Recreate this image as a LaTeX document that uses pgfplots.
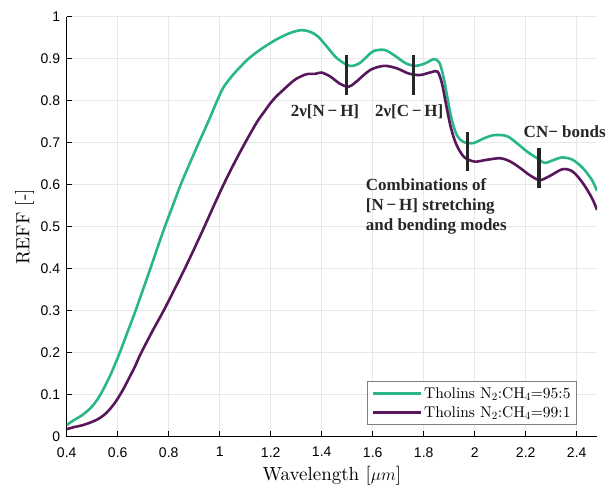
\documentclass[border=0pt]{standalone}
\usepackage{fontspec}
\usepackage{pgfplots}
\pgfplotsset{compat=1.18}
\newfontfamily\tickfont{Liberation Sans}
\newfontfamily\annfont{Liberation Serif}
\newfontfamily\lmten{lmroman10-regular.otf}
\definecolor{cgreen}{RGB}{40,182,138}
\definecolor{cpurple}{RGB}{88,22,92}
\begin{document}
\begin{tikzpicture}
\useasboundingbox (-66.7pt,-48.3pt) rectangle (539.3pt,436.7pt);
\begin{axis}[
  scale only axis,
  width=530.4pt, height=420pt,
  at={(0,0)}, anchor=south west,
  xmin=0.4, xmax=2.48, ymin=0, ymax=1,
  clip mode=individual,
  axis lines*=left,
  axis line style={black, line width=0.8pt},
  xtick={0.4,0.6,...,2.41},
  ytick={0,0.1,...,1.01},
  tick align=inside,
  major tick length=5.5pt,
  tick style={black, line width=0.8pt},
  grid=major,
  major grid style={black!9, line width=0.7pt},
  /pgf/number format/assume math mode=true,
  tick label style={font=\tickfont\fontsize{14}{14}\selectfont},
  xticklabel style={yshift=-7pt},
  yticklabel style={xshift=-3pt},
  xlabel={Wavelength [$\mu m$]},
  ylabel={REFF [-]},
  label style={font=\lmten\fontsize{19}{21}\selectfont},
  xlabel style={at={(axis description cs:0.5,-0.1048)}, anchor=base},
  ylabel style={at={(axis description cs:-0.0705,0.5)}, anchor=base},
  legend style={at={(axis description cs:0.5667,0.0279)}, anchor=south west,
    draw=black!50, line width=0.6pt, fill=white,
    font=\lmten\fontsize{15.5}{18}\selectfont, inner xsep=4pt, inner ysep=4pt,
    row sep=2.5pt},
  legend cell align=left,
  legend image code/.code={\draw[#1, line width=2.6pt] (0pt,0pt) -- (48pt,0pt);},
]
\addplot[cgreen, line width=2.6pt, smooth] coordinates {
(0.40,0.028) (0.43,0.040) (0.46,0.051) (0.49,0.066) (0.51,0.080)
(0.532,0.100) (0.57,0.145) (0.608,0.200) (0.639,0.250) (0.670,0.300)
(0.699,0.350) (0.728,0.400) (0.756,0.450) (0.785,0.500) (0.816,0.550)
(0.847,0.600) (0.882,0.650) (0.918,0.700) (0.955,0.750) (0.990,0.800)
(1.015,0.832) (1.05,0.860) (1.08,0.880) (1.113,0.900) (1.16,0.922)
(1.22,0.945) (1.275,0.961) (1.32,0.968) (1.355,0.964) (1.385,0.953)
(1.42,0.929) (1.46,0.901) (1.51,0.883) (1.55,0.890) (1.60,0.917)
(1.645,0.921) (1.68,0.910) (1.73,0.889) (1.77,0.883) (1.81,0.890)
(1.84,0.899) (1.862,0.890) (1.88,0.850) (1.895,0.80) (1.91,0.755)
(1.93,0.718) (1.955,0.702) (1.995,0.699) (2.035,0.710) (2.075,0.718)
(2.125,0.716) (2.165,0.699) (2.205,0.679) (2.245,0.663) (2.275,0.652)
(2.31,0.659) (2.345,0.665) (2.385,0.659) (2.425,0.639) (2.46,0.611)
(2.48,0.585)
};
\addlegendentry{Tholins N$_2$:CH$_4$=95:5}
\addplot[cpurple, line width=2.6pt, smooth] coordinates {
(0.40,0.018) (0.43,0.023) (0.46,0.027) (0.49,0.033) (0.52,0.041)
(0.545,0.051) (0.57,0.066) (0.595,0.086) (0.62,0.111) (0.645,0.140)
(0.67,0.170) (0.689,0.196) (0.735,0.250) (0.780,0.300) (0.822,0.350) (0.863,0.400)
(0.902,0.450) (0.940,0.500) (0.977,0.550) (1.015,0.600) (1.056,0.650)
(1.100,0.700) (1.147,0.750) (1.175,0.774) (1.200,0.795) (1.225,0.812)
(1.25,0.826) (1.275,0.840) (1.30,0.852) (1.34,0.863)
(1.375,0.864) (1.40,0.867) (1.435,0.857) (1.47,0.841) (1.505,0.833)
(1.535,0.845) (1.59,0.873) (1.645,0.883) (1.695,0.877) (1.74,0.865)
(1.785,0.861) (1.83,0.868) (1.855,0.869) (1.872,0.840) (1.888,0.79)
(1.903,0.745) (1.918,0.712) (1.935,0.687) (1.96,0.665) (2.00,0.655)
(2.045,0.659) (2.10,0.663) (2.14,0.655) (2.18,0.639) (2.215,0.623)
(2.255,0.611) (2.295,0.621) (2.345,0.637) (2.385,0.631) (2.425,0.603)
(2.46,0.568) (2.48,0.540)
};
\addlegendentry{Tholins N$_2$:CH$_4$=99:1}
% annotation bars
\addplot[black!85, line width=3.2pt, forget plot] coordinates {(1.498,0.909) (1.498,0.814)};
\addplot[black!85, line width=3.2pt, forget plot] coordinates {(1.759,0.909) (1.759,0.814)};
\addplot[black!85, line width=3.2pt, forget plot] coordinates {(1.972,0.726) (1.972,0.633)};
\addplot[black!85, line width=3.2pt, forget plot] coordinates {(2.252,0.687) (2.252,0.591)};
\node[anchor=base, inner sep=0pt, text=black!85, font=\annfont\bfseries\fontsize{17}{20}\selectfont] at (axis cs:1.413,0.762) {2ν[N\,−\,H]};
\node[anchor=base, inner sep=0pt, text=black!85, font=\annfont\bfseries\fontsize{17}{20}\selectfont] at (axis cs:1.743,0.762) {2ν[C\,−\,H]};
\node[anchor=base, inner sep=0pt, text=black!85, font=\annfont\bfseries\fontsize{17}{20}\selectfont] at (axis cs:2.353,0.713) {CN− bonds};
\node[anchor=base west, inner sep=0pt, align=left, text=black!85, font=\annfont\bfseries\fontsize{17}{20}\selectfont] at (axis cs:1.5725,0.492) {Combinations of\\{}[N\,−\,H] stretching\\and bending modes};
\end{axis}
\end{tikzpicture}
\end{document}
